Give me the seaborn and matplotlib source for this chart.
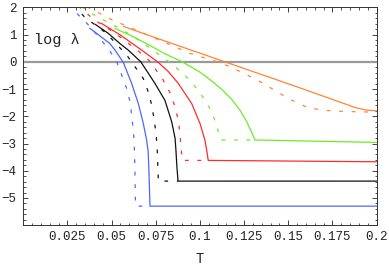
import matplotlib
matplotlib.use("Agg")
import numpy as np
import pandas as pd
import seaborn as sns
import matplotlib.pyplot as plt
from matplotlib.ticker import MultipleLocator, FixedLocator

# ---- data ----
blue_solid_T = [0.0377, 0.0430, 0.0490, 0.0519, 0.0566, 0.0613, 0.0651, 0.0679, 0.0698, 0.0707, 0.0712, 0.0717, 0.2]
blue_solid_y = [1.23, 0.97, 0.67, 0.43, -0.02, -0.79, -1.53, -2.26, -2.87, -3.30, -4.2, -5.30, -5.30]
blue_dash_T = [0.0255, 0.0321, 0.0380, 0.0434, 0.0490, 0.0529, 0.0557, 0.0585, 0.0604, 0.0613, 0.0623, 0.0628, 0.0632, 0.0635, 0.0717]
blue_dash_y = [2.10, 1.66, 1.28, 0.86, 0.40, 0.0, -0.49, -0.98, -1.47, -1.96, -2.51, -3.0, -4.0, -5.30, -5.30]

black_solid_T = [0.0406, 0.0480, 0.0547, 0.0594, 0.0665, 0.0745, 0.0802, 0.0840, 0.0859, 0.0864, 0.0870, 0.0876, 0.2]
black_solid_y = [1.38, 1.05, 0.67, 0.43, 0.0, -0.79, -1.42, -2.20, -2.80, -3.24, -3.9, -4.38, -4.38]
black_dash_T = [0.0285, 0.0347, 0.0470, 0.0585, 0.0632, 0.0679, 0.0707, 0.0727, 0.0741, 0.0751, 0.0758, 0.0762, 0.0765, 0.0876]
black_dash_y = [2.10, 1.64, 1.05, 0.25, -0.18, -0.61, -1.10, -1.59, -2.14, -2.63, -3.12, -4.0, -4.38, -4.38]

red_solid_T = [0.0440, 0.0550, 0.0670, 0.0760, 0.0820, 0.0877, 0.0953, 0.1000, 0.1028, 0.1038, 0.1047, 0.2]
red_solid_y = [1.42, 0.98, 0.43, 0.0, -0.35, -0.79, -1.53, -2.26, -2.87, -3.24, -3.62, -3.67]
red_dash_T = [0.0310, 0.0400, 0.0520, 0.0650, 0.0689, 0.0720, 0.0745, 0.0792, 0.0830, 0.0859, 0.0877, 0.0887, 0.0892, 0.0897, 0.0900, 0.1047]
red_dash_y = [2.05, 1.55, 1.05, 0.40, 0.18, 0.0, -0.24, -0.67, -1.13, -1.65, -2.14, -2.63, -3.12, -3.40, -3.62, -3.62]

green_solid_T = [0.0519, 0.0604, 0.0700, 0.0800, 0.0900, 0.1000, 0.1070, 0.1130, 0.1180, 0.1227, 0.1265, 0.1295, 0.1311, 0.2]
green_solid_y = [1.22, 0.98, 0.66, 0.30, 0.0, -0.38, -0.72, -1.05, -1.38, -1.78, -2.20, -2.62, -2.87, -2.96]
green_dash_T = [0.0330, 0.0400, 0.0500, 0.0600, 0.0680, 0.0745, 0.0800, 0.0860, 0.0934, 0.0990, 0.1028, 0.1066, 0.1094, 0.1113, 0.1120, 0.1311]
green_dash_y = [2.02, 1.72, 1.38, 1.02, 0.68, 0.37, 0.12, -0.18, -0.62, -1.05, -1.40, -1.83, -2.32, -2.81, -2.87, -2.87]

orange_solid_T = [0.0566, 0.0750, 0.0950, 0.1150, 0.1350, 0.1550, 0.1750, 0.1880, 0.1940, 0.2]
orange_solid_y = [1.30, 0.88, 0.43, -0.02, -0.47, -0.92, -1.38, -1.68, -1.77, -1.80]
orange_dash_T = [0.0360, 0.0500, 0.0716, 0.0943, 0.1100, 0.1170, 0.1320, 0.1510, 0.1610, 0.1700, 0.1800, 0.2]
orange_dash_y = [2.02, 1.55, 0.95, 0.31, 0.0, -0.18, -0.65, -1.38, -1.68, -1.78, -1.82, -1.85]

x_ticks = [0.025, 0.05, 0.075, 0.1, 0.125, 0.15, 0.175, 0.2]
x_tick_labels = ["0.025", "0.05", "0.075", "0.1", "0.125", "0.15", "0.175", "0.2"]
y_ticks = [-5, -4, -3, -2, -1, 0, 1, 2]
y_tick_labels = ["\u22125", "\u22124", "\u22123", "\u22122", "\u22121", "0", "1", "2"]

series = [
    ("blue", "solid", blue_solid_T, blue_solid_y),
    ("blue", "dash", blue_dash_T, blue_dash_y),
    ("black", "solid", black_solid_T, black_solid_y),
    ("black", "dash", black_dash_T, black_dash_y),
    ("red", "solid", red_solid_T, red_solid_y),
    ("red", "dash", red_dash_T, red_dash_y),
    ("green", "solid", green_solid_T, green_solid_y),
    ("green", "dash", green_dash_T, green_dash_y),
    ("orange", "solid", orange_solid_T, orange_solid_y),
    ("orange", "dash", orange_dash_T, orange_dash_y),
]

colors = {"blue": "#4a68ff", "black": "#111111", "red": "#ff2b2b",
          "green": "#6aee22", "orange": "#ff8533"}

sns.set_style("ticks")
plt.rcParams['font.family'] = ['Liberation Mono', 'DejaVu Sans Mono']

fig = plt.figure(figsize=(3.89, 2.72), dpi=100)
ax = fig.add_axes([0.060, 0.172, 0.908, 0.801])

ax.axhline(0, color="#9a9a9a", lw=1.6, zorder=1)

for cname, style, T, y in series:
    df = pd.DataFrame({"T": T, "y": y})
    ls = "-" if style == "solid" else (0, (3, 7))
    sns.lineplot(data=df, x="T", y="y", ax=ax, color=colors[cname],
                 sort=False, estimator=None, lw=0.9, linestyle=ls, zorder=2)

ax.set_xlim(0, 0.2)
ax.set_ylim(-6, 2)
ax.xaxis.set_major_locator(FixedLocator(x_ticks))
ax.set_xticklabels(x_tick_labels)
ax.xaxis.set_minor_locator(MultipleLocator(0.005))
ax.yaxis.set_major_locator(FixedLocator(y_ticks))
ax.set_yticklabels(y_tick_labels)
ax.yaxis.set_minor_locator(MultipleLocator(0.2))

ax.tick_params(which="both", direction="in", top=True, right=True,
               labeltop=False, labelright=False, color="#333333", width=0.6)
ax.tick_params(which="major", length=3.6, labelsize=9, colors="#222222")
ax.tick_params(which="minor", length=1.8)
ax.tick_params(axis="x", which="major", pad=4)
ax.tick_params(axis="y", which="major", pad=5)

for sp in ax.spines.values():
    sp.set_color("#333333")
    sp.set_linewidth(0.7)

ax.set_xlabel("T", fontsize=10, labelpad=7, color="#222222")
ax.set_ylabel("")
ax.text(0.0058, 0.8, "log \u03bb", fontsize=11, va="center", ha="left", color="#222222")

fig.savefig("out.png", dpi=100)
